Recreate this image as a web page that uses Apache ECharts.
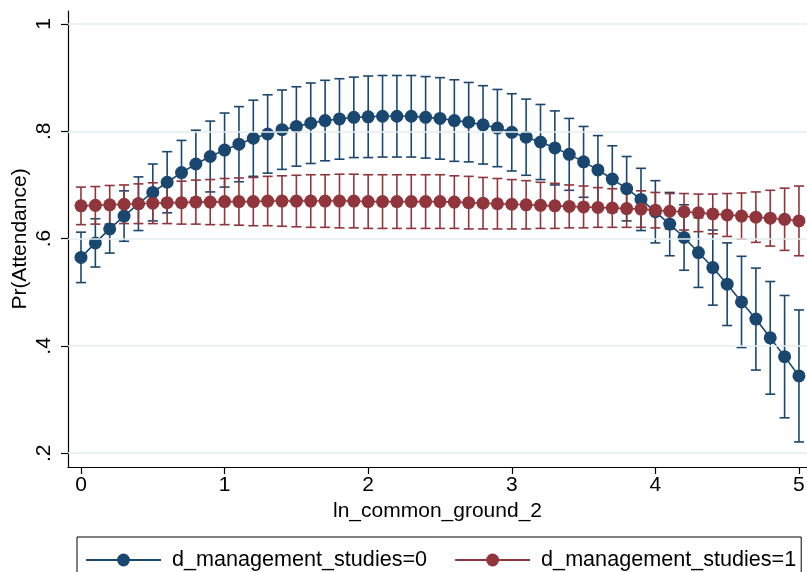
<!DOCTYPE html>
<html>
<head>
<meta charset="utf-8">
<script src="https://cdn.jsdelivr.net/npm/echarts@6/dist/echarts.min.js"></script>
<style>
  html, body { margin: 0; padding: 0; background: #fff; }
  #chart { width: 807px; height: 572px; }
</style>
</head>
<body>
<div id="chart"></div>
<script>
// x grid of ln_common_ground_2
const xVals = [0, 0.1, 0.2, 0.3, 0.4, 0.5, 0.6, 0.7, 0.8, 0.9,
  1, 1.1, 1.2, 1.3, 1.4, 1.5, 1.6, 1.7, 1.8, 1.9,
  2, 2.1, 2.2, 2.3, 2.4, 2.5, 2.6, 2.7, 2.8, 2.9,
  3, 3.1, 3.2, 3.3, 3.4, 3.5, 3.6, 3.7, 3.8, 3.9,
  4, 4.1, 4.2, 4.3, 4.4, 4.5, 4.6, 4.7, 4.8, 4.9, 5];

// d_management_studies=0 : margin and CI half width
const prob0 = [0.565, 0.592, 0.618, 0.642, 0.665, 0.686, 0.705, 0.723, 0.739, 0.753,
  0.765, 0.776, 0.787, 0.795, 0.803, 0.809, 0.815, 0.820, 0.823, 0.826,
  0.827, 0.828, 0.828, 0.828, 0.826, 0.824, 0.820, 0.817, 0.812, 0.806,
  0.798, 0.789, 0.780, 0.769, 0.757, 0.743, 0.728, 0.711, 0.693, 0.673,
  0.650, 0.627, 0.602, 0.574, 0.546, 0.515, 0.482, 0.450, 0.415, 0.380, 0.344];
const ci0 = [0.047, 0.045, 0.045, 0.047, 0.050, 0.053, 0.057, 0.060, 0.063, 0.066,
  0.069, 0.070, 0.071, 0.073, 0.074, 0.074, 0.075, 0.075, 0.075, 0.075,
  0.076, 0.076, 0.076, 0.076, 0.076, 0.076, 0.076, 0.074, 0.073, 0.072,
  0.072, 0.071, 0.070, 0.069, 0.067, 0.066, 0.064, 0.062, 0.060, 0.058,
  0.058, 0.059, 0.061, 0.065, 0.070, 0.077, 0.085, 0.095, 0.105, 0.114, 0.123];

// d_management_studies=1
const prob1 = [0.661, 0.662, 0.663, 0.664, 0.665, 0.666, 0.667, 0.667, 0.668, 0.668,
  0.669, 0.669, 0.669, 0.670, 0.670, 0.670, 0.670, 0.670, 0.670, 0.670,
  0.669, 0.669, 0.669, 0.669, 0.669, 0.669, 0.668, 0.667, 0.666, 0.665,
  0.664, 0.663, 0.662, 0.661, 0.660, 0.659, 0.658, 0.657, 0.656, 0.655,
  0.653, 0.651, 0.650, 0.648, 0.646, 0.644, 0.642, 0.640, 0.638, 0.636, 0.633];
const ci1 = [0.035, 0.035, 0.036, 0.036, 0.037, 0.038, 0.039, 0.040, 0.041, 0.042,
  0.043, 0.044, 0.045, 0.046, 0.047, 0.048, 0.049, 0.049, 0.050, 0.050,
  0.050, 0.050, 0.050, 0.050, 0.050, 0.050, 0.049, 0.049, 0.048, 0.047,
  0.046, 0.045, 0.043, 0.042, 0.040, 0.039, 0.037, 0.036, 0.035, 0.034,
  0.033, 0.033, 0.034, 0.035, 0.037, 0.040, 0.043, 0.047, 0.052, 0.058, 0.065];

const xTicks = [0, 1, 2, 3, 4, 5];
const yTicks = [0.2, 0.4, 0.6, 0.8, 1];
const yTickLabels = ['.2', '.4', '.6', '.8', '1'];

const BLUE = '#1a476f';
const RED = '#90353b';
const FONT = 'Liberation Sans';
const FS = 21;

const chart = echarts.init(document.getElementById('chart'), null, { renderer: 'canvas' });

function pointData(p) {
  return xVals.map((x, i) => [x, p[i]]);
}
function capData(p, ci) {
  return xVals.map((x, i) => [x, p[i] - ci[i], p[i] + ci[i]]);
}
function capRender(color) {
  return function (params, api) {
    const x = api.value(0);
    const lo = api.coord([x, api.value(1)]);
    const hi = api.coord([x, api.value(2)]);
    const w = 5;
    const st = { stroke: color, lineWidth: 1.6 };
    return {
      type: 'group',
      children: [
        { type: 'line', shape: { x1: lo[0], y1: lo[1], x2: hi[0], y2: hi[1] }, style: st },
        { type: 'line', shape: { x1: lo[0] - w, y1: lo[1], x2: lo[0] + w, y2: lo[1] }, style: st },
        { type: 'line', shape: { x1: hi[0] - w, y1: hi[1], x2: hi[0] + w, y2: hi[1] }, style: st }
      ]
    };
  };
}

chart.setOption({
  animation: false,
  backgroundColor: '#fff',
  textStyle: { fontFamily: FONT, color: '#000' },
  grid: { left: 68, right: 0, top: 11, bottom: 105, containLabel: false, outerBoundsMode: 'none' },
  xAxis: {
    type: 'value',
    min: -0.0905,
    max: 5.056,
    name: 'ln_common_ground_2',
    nameLocation: 'middle',
    nameGap: 34,
    nameMoveOverlap: false,
    nameTextStyle: { fontSize: FS, color: '#000', fontFamily: FONT },
    axisLine: { onZero: false, lineStyle: { color: '#000', width: 1.2 } },
    axisTick: { customValues: xTicks, length: 7, lineStyle: { color: '#000', width: 1.2 } },
    axisLabel: { customValues: xTicks, fontSize: FS, color: '#000', margin: 8 },
    splitLine: { show: false }
  },
  yAxis: {
    type: 'value',
    min: 0.1743,
    max: 1.0242,
    name: 'Pr(Attendance)',
    nameLocation: 'middle',
    nameGap: 37,
    nameRotate: 90,
    nameMoveOverlap: false,
    nameTextStyle: { fontSize: FS, color: '#000', fontFamily: FONT },
    axisLine: { show: true, onZero: false, lineStyle: { color: '#000', width: 1.2 } },
    axisTick: { show: true, customValues: yTicks, length: 7, lineStyle: { color: '#000', width: 1.2 } },
    axisLabel: {
      customValues: yTicks,
      rotate: 90,
      fontSize: FS,
      color: '#000',
      margin: 13,
      formatter: v => yTickLabels[yTicks.findIndex(t => Math.abs(t - v) < 1e-6)] || ''
    },
    splitLine: { show: false }
  },
  legend: {
    data: ['d_management_studies=0', 'd_management_studies=1'],
    left: 77,
    top: 537,
    padding: [12, 5, 30, 8],
    itemGap: 27,
    itemWidth: 75,
    itemHeight: 16,
    borderColor: '#000',
    borderWidth: 1,
    textStyle: { fontSize: 21.6, color: '#000', fontFamily: FONT, padding: [0, 0, 0, 6] }
  },
  series: [
    {
      name: 'grid',
      type: 'line',
      data: [],
      z: 0,
      markLine: {
        silent: true,
        symbol: 'none',
        label: { show: false },
        lineStyle: { color: '#e6eef1', width: 1.5, type: 'solid' },
        data: yTicks.map(v => ({ yAxis: v }))
      }
    },
    {
      name: 'ci0',
      type: 'custom',
      renderItem: capRender(BLUE),
      encode: { x: 0, y: [1, 2] },
      data: capData(prob0, ci0),
      z: 2
    },
    {
      name: 'ci1',
      type: 'custom',
      renderItem: capRender(RED),
      encode: { x: 0, y: [1, 2] },
      data: capData(prob1, ci1),
      z: 3
    },
    {
      name: 'd_management_studies=0',
      type: 'line',
      data: pointData(prob0),
      symbol: 'circle',
      symbolSize: 13,
      lineStyle: { color: BLUE, width: 1.6 },
      itemStyle: { color: BLUE },
      z: 4
    },
    {
      name: 'd_management_studies=1',
      type: 'line',
      data: pointData(prob1),
      symbol: 'circle',
      symbolSize: 13,
      lineStyle: { color: RED, width: 1.6 },
      itemStyle: { color: RED },
      z: 5
    }
  ]
});
</script>
</body>
</html>
